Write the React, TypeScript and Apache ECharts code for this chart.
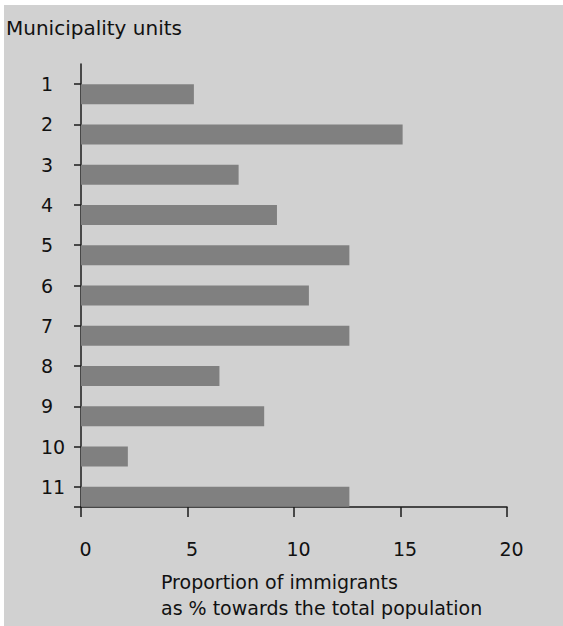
import React, { useEffect, useRef } from "react";
import * as echarts from "echarts";

// Municipality units, top to bottom
const units = ["1", "2", "3", "4", "5", "6", "7", "8", "9", "10", "11"];
// Proportion of immigrants, % of the total population
const immigrantShare = [5.3, 15.1, 7.4, 9.2, 12.6, 10.7, 12.6, 6.5, 8.6, 2.2, 12.6];
// Empty spacer series that pushes each bar below its tick
const spacer = units.map(() => null);
const xTicks = { min: 0, max: 20, interval: 5 };

const FONT = "DejaVu Sans";
const TEXT = "#111";
const AXIS = "#1a1a1a";

export default function App() {
  const ref = useRef<HTMLDivElement>(null);

  useEffect(() => {
    if (!ref.current) return;
    const chart = echarts.init(ref.current, undefined, { renderer: "svg" });
    const gridLeft = 77;
    const gridTop = 59;
    const gridBottom = 119;
    const H = 621;

    chart.setOption({
      animation: false,
      backgroundColor: "transparent",
      grid: { left: gridLeft, top: gridTop, right: 56, bottom: gridBottom, containLabel: false },
      xAxis: {
        type: "value",
        min: xTicks.min,
        max: xTicks.max,
        interval: xTicks.interval,
        splitLine: { show: false },
        axisLine: { show: true, lineStyle: { color: AXIS, width: 1.5 } },
        axisTick: { show: true, length: 10, lineStyle: { color: AXIS, width: 1.5 } },
        axisLabel: {
          color: TEXT,
          fontFamily: FONT,
          fontSize: 19,
          margin: 42,
          verticalAlign: "middle",
          padding: [0, 0, 0, 9],
        },
      },
      yAxis: {
        type: "category",
        data: units,
        inverse: true,
        axisLine: { show: true, lineStyle: { color: AXIS, width: 1.5 } },
        axisTick: { show: true, alignWithLabel: true, length: 7, lineStyle: { color: AXIS, width: 1.5 } },
        axisLabel: {
          color: TEXT,
          fontFamily: FONT,
          fontSize: 19,
          align: "left",
          margin: 40,
          padding: [7, 0, 0, 0],
        },
      },
      series: [
        {
          type: "bar",
          data: spacer,
          barWidth: 20,
          barGap: "0%",
          itemStyle: { color: "transparent" },
          silent: true,
        },
        {
          type: "bar",
          data: immigrantShare,
          barWidth: 20,
          barGap: "0%",
          itemStyle: { color: "#808080" },
        },
      ],
      graphic: [
        {
          type: "text",
          left: 2,
          top: 13,
          style: { text: "Municipality units", fontFamily: FONT, fontSize: 20, fill: TEXT },
        },
        {
          type: "line",
          shape: { x1: gridLeft - 7, y1: H - gridBottom, x2: gridLeft, y2: H - gridBottom },
          style: { stroke: AXIS, lineWidth: 1.5 },
        },
        {
          type: "text",
          left: 157,
          top: 567,
          style: { text: "Proportion of immigrants", fontFamily: FONT, fontSize: 19, fill: TEXT },
        },
        {
          type: "text",
          left: 157,
          top: 593,
          style: { text: "as % towards the total population", fontFamily: FONT, fontSize: 19, fill: TEXT },
        },
      ],
    });

    return () => chart.dispose();
  }, []);

  return (
    <div style={{ position: "absolute", left: 0, top: 0, width: 563, height: 626, background: "#fff" }}>
      <div
        ref={ref}
        style={{ position: "absolute", left: 4, top: 5, width: 559, height: 621, background: "#d1d1d1" }}
      />
    </div>
  );
}
